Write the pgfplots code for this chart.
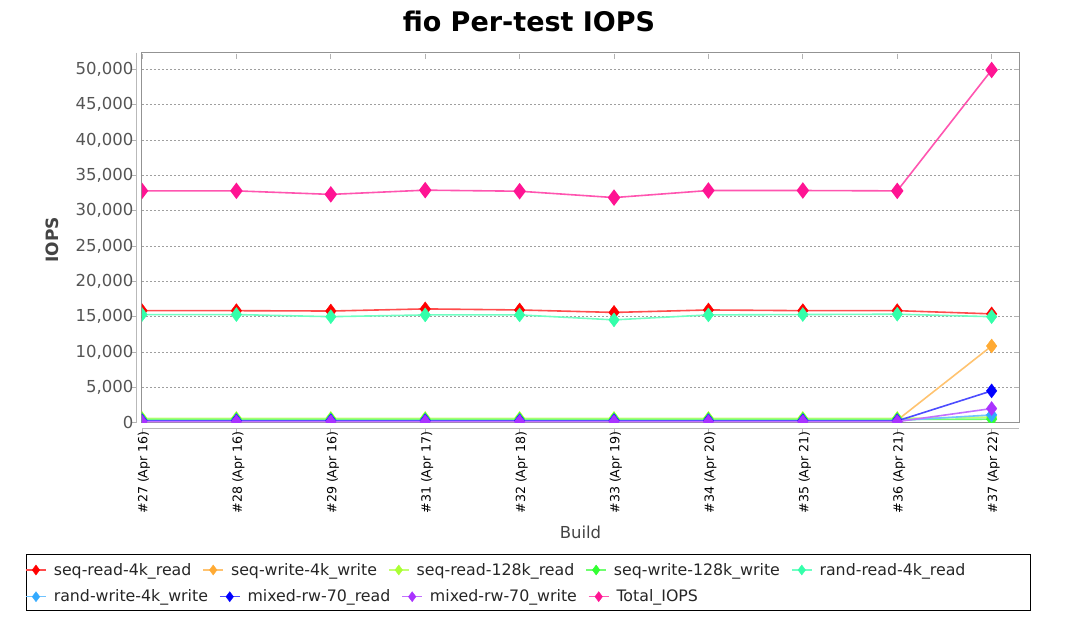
\documentclass[border=0pt]{standalone}
\usepackage{fontspec}
\setmainfont{DejaVu Sans}
\usepackage{pgfplots}
\pgfplotsset{compat=1.18}

\definecolor{cRed}{HTML}{FF0000}
\definecolor{cOrange}{HTML}{FFAA33}
\definecolor{cYG}{HTML}{AAFF33}
\definecolor{cGreen}{HTML}{33FF33}
\definecolor{cAqua}{HTML}{33FFAA}
\definecolor{cLBlue}{HTML}{33AAFF}
\definecolor{cBlue}{HTML}{0000FF}
\definecolor{cPurple}{HTML}{AA33FF}
\definecolor{cPink}{HTML}{FF1493}
\definecolor{cPinkL}{HTML}{FF55B0}
\definecolor{tickgray}{HTML}{555555}
\definecolor{labgray}{HTML}{444444}

\pgfplotsset{
  ser/.style={color=#1!70!white, line width=1.6pt, mark=diamond*, mark size=7pt,
              mark options={fill=#1, draw=#1, line width=0.4pt, solid}},
  legimg/.style={color=#1!70!white, line width=1.6pt, mark=diamond*, mark size=5pt,
              mark options={fill=#1, draw=#1, line width=0.4pt, solid}},
  legrow/.style={
    at={(0pt,0pt)}, anchor=south west, scale only axis, width=1080pt, height=624pt,
    hide axis, xmin=0, xmax=1, ymin=0, ymax=1,
    legend columns=-1,
    legend style={draw=none, fill=none, inner sep=0pt, anchor=west,
      font=\fontsize{15.8}{18}\selectfont, text=black!85,
      /tikz/every odd column/.append style={column sep=5pt},
      /tikz/every even column/.append style={column sep=9pt}},
    legend image code/.code={\draw[mark repeat=2,mark phase=2,##1] plot coordinates {(0pt,0pt) (10pt,0pt) (20pt,0pt)};},
  },
}

\begin{document}
\begin{tikzpicture}[x=1pt,y=1pt]
\path[use as bounding box] (0,0) rectangle (1080,624);

\node[anchor=base, font=\fontsize{27}{32}\selectfont\bfseries] at (529,592.3) {fio Per-test IOPS};

\begin{axis}[
  at={(142pt,201.3pt)}, anchor=south west, scale only axis,
  width=877pt, height=370pt,
  xmin=0, xmax=9.29, ymin=0, ymax=52350,
  xtick={0,1,2,3,4,5,6,7,8,9},
  xticklabels={{\#27 (Apr 16)},{\#28 (Apr 16)},{\#29 (Apr 16)},{\#31 (Apr 17)},{\#32 (Apr 18)},{\#33 (Apr 19)},{\#34 (Apr 20)},{\#35 (Apr 21)},{\#36 (Apr 21)},{\#37 (Apr 22)}},
  ytick={0,5000,10000,15000,20000,25000,30000,35000,40000,45000,50000},
  scaled y ticks=false,
  axis line style={draw=gray!85, line width=1pt},
  tick align=outside, major tick length=5pt,
  tick style={draw=gray!60, line width=0.8pt},
  ytick style={xshift=-5pt},
  xtick style={yshift=-6pt},
  ymajorgrids,
  major grid style={dash pattern=on 2pt off 2pt, draw=gray!75, line width=0.8pt},
  yticklabel style={font=\fontsize{16.5}{18}\selectfont, text=tickgray},
  xticklabel style={font=\fontsize{12.6}{14}\selectfont, text=black, rotate=90, anchor=east, yshift=-2pt},
  xlabel={Build},
  ylabel={IOPS},
  xlabel style={font=\fontsize{16.5}{18}\selectfont, text=labgray, at={(axis description cs:0.5,-0.295)}, anchor=center},
  ylabel style={font=\fontsize{17}{19}\selectfont\bfseries, text=labgray, at={(axis description cs:-0.1026,0.494)}, anchor=center, rotate=0},
  clip marker paths=true,
  extra description/.code={
    \draw[gray!55, line width=1pt] ([xshift=-5pt]rel axis cs:0,1) -- ([xshift=-5pt]rel axis cs:0,0);
    \draw[gray!55, line width=1pt] ([yshift=-6pt]rel axis cs:0,0) -- ([yshift=-6pt]rel axis cs:1,0);
  },
  /pgf/number format/1000 sep={,},
  /pgf/number format/assume math mode=true,
]
% seq-read-4k_read
\addplot[ser=cRed] coordinates {(0,15850) (1,15850) (2,15800) (3,16100) (4,15950) (5,15600) (6,15950) (7,15850) (8,15850) (9,15400)};
% seq-write-4k_write
\addplot[ser=cOrange] coordinates {(0,350) (1,350) (2,350) (3,350) (4,350) (5,350) (6,350) (7,350) (8,350) (9,10850)};
% seq-read-128k_read
\addplot[ser=cYG] coordinates {(0,600) (1,600) (2,600) (3,600) (4,600) (5,600) (6,600) (7,600) (8,600) (9,800)};
% seq-write-128k_write
\addplot[ser=cGreen] coordinates {(0,450) (1,450) (2,450) (3,450) (4,450) (5,450) (6,450) (7,450) (8,450) (9,500)};
% rand-read-4k_read
\addplot[ser=cAqua] coordinates {(0,15300) (1,15300) (2,15000) (3,15250) (4,15250) (5,14550) (6,15250) (7,15300) (8,15350) (9,15000)};
% rand-write-4k_write
\addplot[ser=cLBlue] coordinates {(0,300) (1,300) (2,300) (3,300) (4,300) (5,300) (6,300) (7,300) (8,300) (9,1100)};
% mixed-rw-70_read
\addplot[ser=cBlue] coordinates {(0,250) (1,250) (2,250) (3,250) (4,250) (5,250) (6,250) (7,250) (8,250) (9,4500)};
% mixed-rw-70_write
\addplot[ser=cPurple] coordinates {(0,150) (1,150) (2,150) (3,150) (4,150) (5,150) (6,150) (7,150) (8,150) (9,2000)};
% Total_IOPS
\addplot[color=cPinkL, line width=1.6pt, mark=diamond*, mark size=7pt, mark options={fill=cPink, draw=cPink, solid}] coordinates {(0,32800) (1,32800) (2,32300) (3,32900) (4,32750) (5,31850) (6,32850) (7,32850) (8,32800) (9,49900)};
\end{axis}

% legend frame
\draw[black, line width=1pt] (26,13) rectangle (1030,69);

% legend row 1
\begin{axis}[legrow, legend style={at={(25/1080,54/624)}}]
\addlegendimage{legimg=cRed}
\addlegendentry{seq-read-4k\_read}
\addlegendimage{legimg=cOrange}
\addlegendentry{seq-write-4k\_write}
\addlegendimage{legimg=cYG}
\addlegendentry{seq-read-128k\_read}
\addlegendimage{legimg=cGreen}
\addlegendentry{seq-write-128k\_write}
\addlegendimage{legimg=cAqua}
\addlegendentry{rand-read-4k\_read}
\end{axis}

% legend row 2
\begin{axis}[legrow, legend style={at={(25/1080,27.3/624)}}]
\addlegendimage{legimg=cLBlue}
\addlegendentry{rand-write-4k\_write}
\addlegendimage{legimg=cBlue}
\addlegendentry{mixed-rw-70\_read}
\addlegendimage{legimg=cPurple}
\addlegendentry{mixed-rw-70\_write}
\addlegendimage{legimg=cPink}
\addlegendentry{Total\_IOPS}
\end{axis}
\end{tikzpicture}
\end{document}
